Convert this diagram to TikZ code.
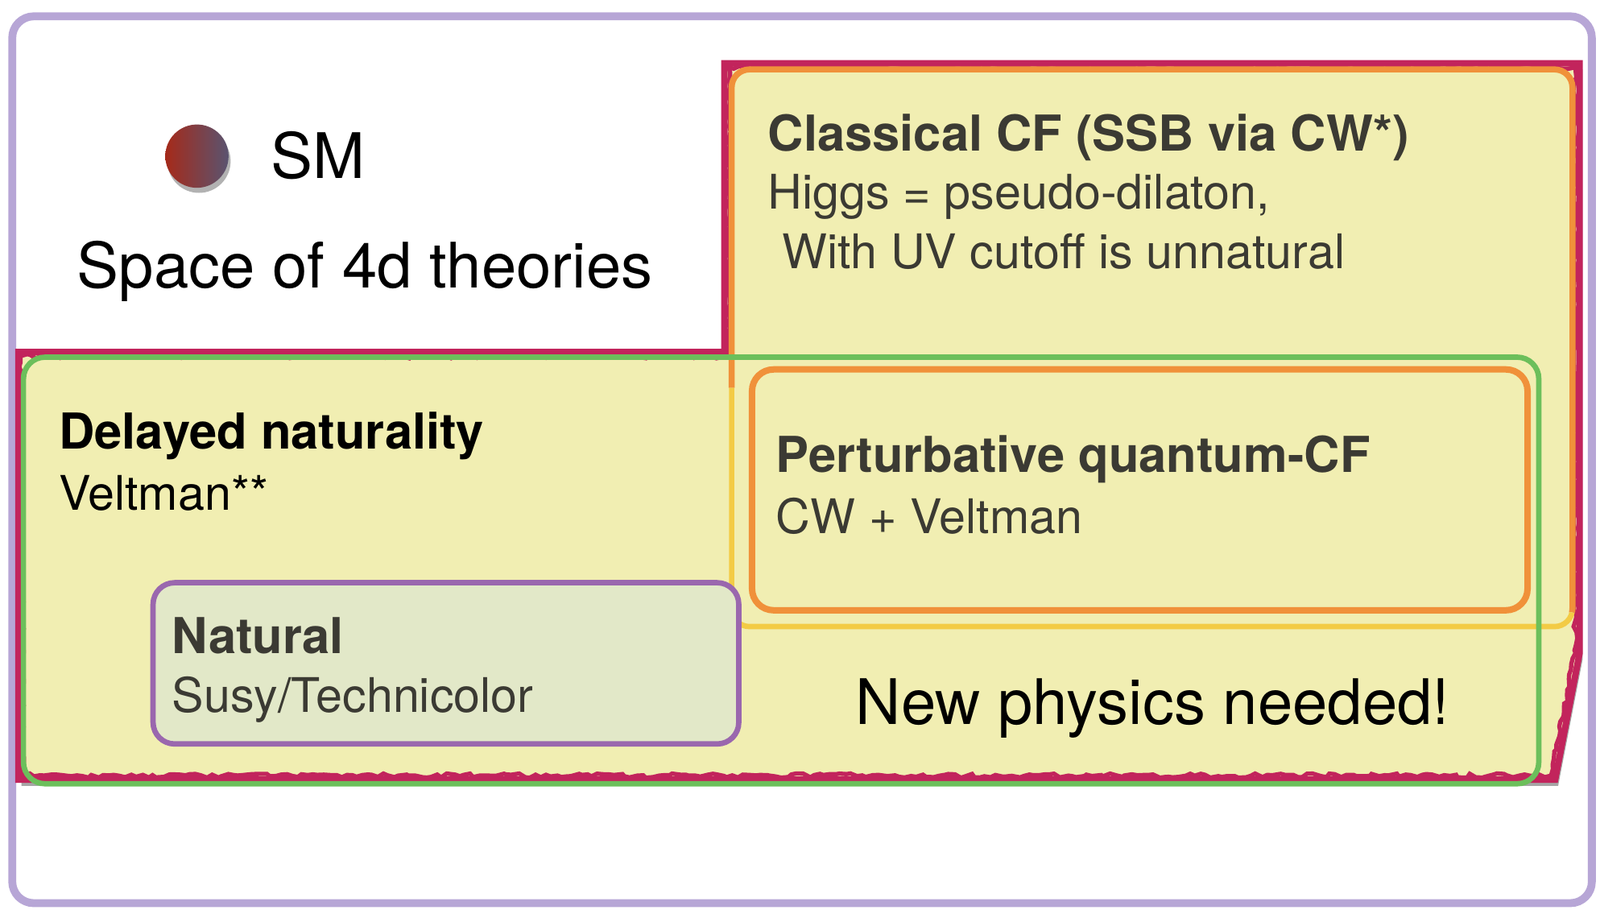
\documentclass[tikz,border=0pt]{standalone}
\usepackage{fontspec}
\setmainfont{TeX Gyre Heros}
\usepackage{xcolor}
\usetikzlibrary{decorations.pathmorphing}

\definecolor{lavender}{HTML}{B7A6D6}
\definecolor{crimson}{HTML}{C2245C}
\definecolor{paleyellow}{HTML}{F1EEB2}
\definecolor{cforange}{HTML}{F0913A}
\definecolor{cfyellow}{HTML}{F3CB45}
\definecolor{npgreen}{HTML}{6CBF5B}
\definecolor{natpurple}{HTML}{9A67AE}
\definecolor{natfill}{HTML}{E2E8C8}
\definecolor{textgray}{HTML}{3B3A33}
\definecolor{smred}{HTML}{A52A1A}
\definecolor{smslate}{HTML}{5A5470}

\tikzset{
  roughline/.style={decorate,decoration={random steps,segment length=1.5pt,amplitude=0.6pt}},
  heading/.style={anchor=base west,inner sep=0pt,font=\fontsize{13.8}{16}\selectfont\bfseries,text=textgray},
  subline/.style={anchor=base west,inner sep=0pt,font=\fontsize{13.3}{16}\selectfont,text=textgray},
  bigline/.style={anchor=base west,inner sep=0pt,font=\fontsize{17.5}{20}\selectfont,text=black},
}

\begin{document}
\begin{tikzpicture}[x=0.1mm,y=-0.1mm]
    \useasboundingbox (0,0) rectangle (1568,891);
    % space of theories
    \draw[lavender,line width=2.2pt,rounded corners=6pt,fill=white] (12,16) rectangle (1560,885);
    % unnatural region
    \fill[black,opacity=0.35] (21,351) -- (713,351) -- (713,68) -- (1551,68) -- (1551,646) -- (1527,770) -- (21,770) -- cycle;
    \fill[paleyellow] (18,345) -- (710,345) -- (710,62) -- (1548,62) -- (1548,640) -- (1524,764) -- (18,764) -- cycle;
    \draw[crimson,line width=1.8pt] (18,345) -- (710,345) -- (710,62) -- (1548,62) -- (1548,640) -- (1524,764) -- (18,764) -- cycle;
    \draw[crimson,line width=1.2pt,roughline] (20,349) -- (714,349) -- (714,66) -- (1544,66) -- (1544,640) -- (1520,760) -- (22,760) -- cycle;
    % classical CF
    \begin{scope}
        \clip (690,40) -- (1570,40) -- (1570,600) -- (760,600) -- (760,380) -- (690,380) -- cycle;
        \draw[cforange,line width=1.7pt,rounded corners=5pt] (717,68) rectangle (1541,614);
    \end{scope}
    \begin{scope}
        \clip (690,380) -- (760,380) -- (760,600) -- (1570,600) -- (1570,640) -- (690,640) -- cycle;
        \draw[cfyellow,line width=1.5pt,rounded corners=5pt] (717,68) rectangle (1541,614);
    \end{scope}
    % new physics
    \draw[npgreen,line width=1.5pt,rounded corners=6pt] (23,350) rectangle (1508,768);
    % perturbative quantum CF
    \draw[cforange,line width=1.8pt,rounded corners=6pt] (737,362) rectangle (1497,598);
    % natural
    \draw[natpurple,line width=1.5pt,rounded corners=6pt,fill=natfill] (150,571) rectangle (724,729);
    % SM point
    \fill[black,opacity=0.3] (195,158) circle[radius=31];
    \shade[left color=smred,right color=smslate] (193,153) circle[radius=31];

    \node[bigline] (sm) at (265,175) {SM};
    \node[bigline] (space) at (75,282) {Space of 4d theories};
    \node[heading] (classical) at (752,148) {Classical CF (SSB via CW*)};
    \node[subline] (higgs) at (752,205) {Higgs = pseudo-dilaton,};
    \node[subline] (cutoff) at (766,263) {With UV cutoff is unnatural};
    \node[heading,text=black] (delayed) at (57,440) {Delayed naturality};
    \node[subline,text=black] (veltman) at (57,500) {Veltman**};
    \node[heading] (pert) at (760,463) {Perturbative quantum-CF};
    \node[subline] (cwvelt) at (760,523) {CW + Veltman};
    \node[heading] (natural) at (168,640) {Natural};
    \node[subline] (susy) at (168,698) {Susy/Technicolor};
    \node[bigline] (newphys) at (838,710) {New physics needed!};
\end{tikzpicture}
\end{document}
